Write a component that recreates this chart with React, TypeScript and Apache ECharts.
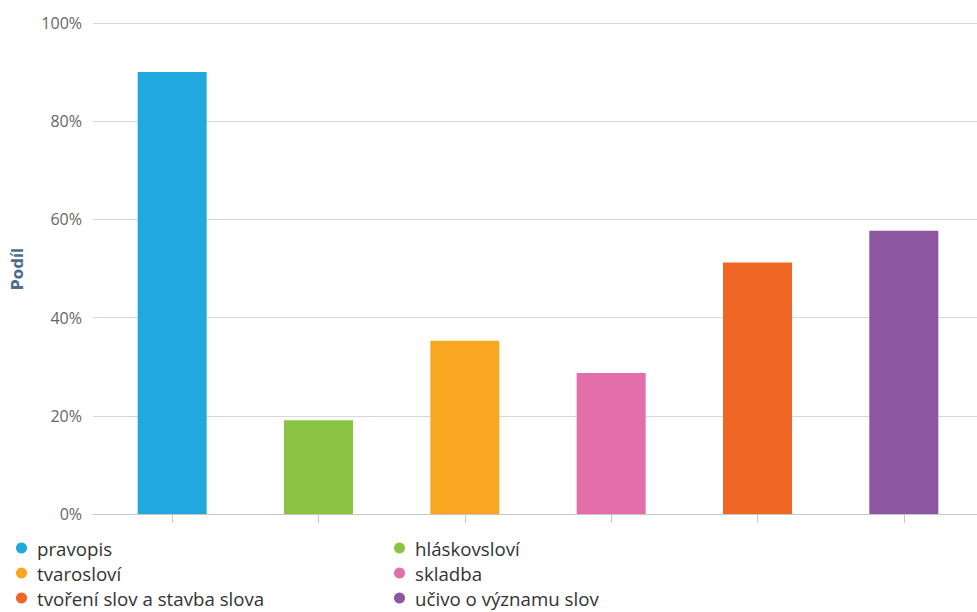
import React, { useEffect, useRef } from "react";
import * as echarts from "echarts";

const categories = [
  "pravopis",
  "hláskovsloví",
  "tvarosloví",
  "skladba",
  "tvoření slov a stavba slova",
  "učivo o významu slov",
];
const values = [90.0, 19.1, 35.3, 28.7, 51.2, 57.7];
const colors = ["#21a8df", "#8bc443", "#f9a621", "#e46ea9", "#ef6625", "#8c56a0"];
const leftLegend = ["pravopis", "tvarosloví", "tvoření slov a stavba slova"];
const rightLegend = ["hláskovsloví", "skladba", "učivo o významu slov"];
const yTitle = "Podíl";

export default function App() {
  const ref = useRef<HTMLDivElement>(null);
  useEffect(() => {
    if (!ref.current) return;
    const chart = echarts.init(ref.current, null, { renderer: "svg" });
    const font = "'Open Sans', 'Noto Sans', sans-serif";
    const series = categories.map((c, i) => ({
      name: c,
      type: "bar",
      stack: "all",
      xAxisIndex: 1,
      yAxisIndex: 1,
      barWidth: 69,
      itemStyle: { color: colors[i] },
      data: categories.map((_, j) => (j === i ? values[i] : "-")),
    }));
    const legendCommon = {
      orient: "vertical",
      icon: "circle",
      itemWidth: 11,
      itemHeight: 11,
      itemGap: 5,
      top: 538,
      padding: 0,
      height: 80,
      textStyle: {
        fontSize: 18.7,
        lineHeight: 20,
        color: "#333",
        fontFamily: font,
        padding: [0, 0, 0, 5],
      },
    };
    chart.setOption({
      animation: false,
      textStyle: { fontFamily: font },
      grid: [
        { left: 93, right: 0, top: 23, bottom: 98 },
        { left: 99, width: 880, top: 23, bottom: 98 },
      ],
      graphic: [
        {
          type: "text",
          x: 18,
          y: 269,
          rotation: Math.PI / 2,
          style: {
            text: yTitle,
            fontFamily: "'DejaVu Sans', Verdana, sans-serif",
            fontWeight: "bold",
            fontSize: 15,
            fill: "#4d6d8c",
            align: "center",
            verticalAlign: "middle",
          },
        },
      ],
      xAxis: [
        {
          gridIndex: 0,
          type: "category",
          data: [""],
          axisLine: { show: true, lineStyle: { color: "#c6c6c6", width: 1 } },
          axisTick: { show: false },
          axisLabel: { show: false },
        },
        {
          gridIndex: 1,
          type: "category",
          data: categories,
          axisLine: { show: false },
          axisTick: {
            show: true,
            interval: 0,
            alignWithLabel: true,
            length: 9,
            lineStyle: { color: "#c6c6c6" },
          },
          axisLabel: { show: false, interval: 0 },
        },
      ],
      yAxis: [
        {
          gridIndex: 0,
          type: "value",
          min: 0,
          max: 100,
          interval: 20,
          axisLine: { show: false },
          axisTick: { show: false },
          axisLabel: { formatter: "{value}%", fontSize: 16, color: "#666", margin: 11, fontFamily: font },
          splitLine: { lineStyle: { color: "#d8d8d8", width: 1 } },
        },
        {
          gridIndex: 1,
          type: "value",
          min: 0,
          max: 100,
          show: false,
          splitLine: { show: false },
        },
      ],
      legend: [
        { ...legendCommon, left: 16, data: leftLegend },
        { ...legendCommon, left: 394, data: rightLegend },
      ],
      series,
    });
    return () => chart.dispose();
  }, []);
  return <div ref={ref} style={{ width: 977, height: 612, position: "absolute", left: 0, top: 0 }} />;
}
